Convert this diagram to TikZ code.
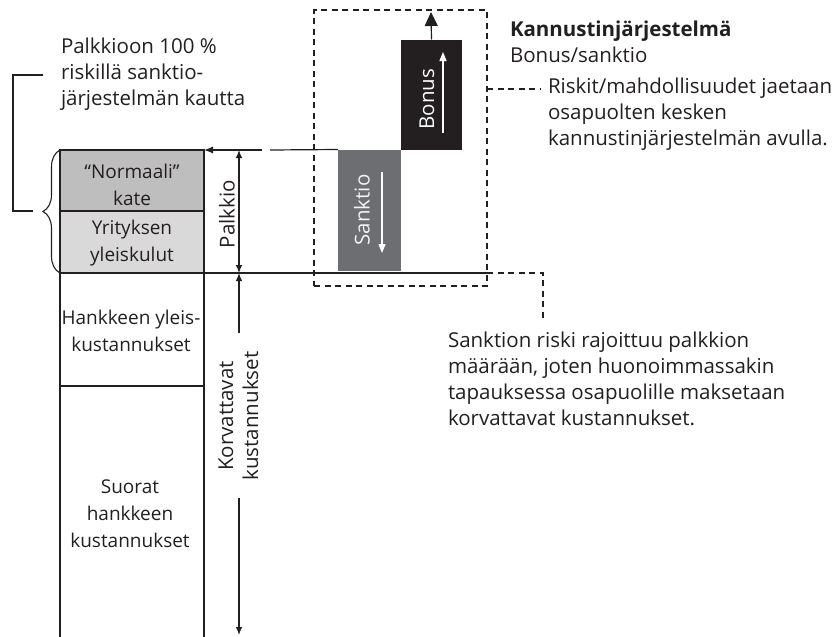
\documentclass[tikz,border=0pt]{standalone}
\usepackage{fontspec}
\setmainfont{Open Sans}
\usetikzlibrary{arrows.meta,decorations.pathreplacing}
\definecolor{ink}{HTML}{231F20}
\definecolor{margingray}{HTML}{BEBEBE}
\definecolor{overheadgray}{HTML}{D9D9DA}
\definecolor{sanktiogray}{HTML}{6D6E71}
\definecolor{bonusblack}{HTML}{231F20}
\begin{document}
\begin{tikzpicture}[x=1pt,y=-1pt,
  every node/.style={text=ink, font=\fontsize{20.5}{26}\selectfont, inner sep=0pt, outer sep=0pt},
  rule/.style={draw=ink, line width=1.2pt},
  cell/.style={rule, anchor=north west, minimum width=144pt},
  celltext/.style={align=center, font=\fontsize{19}{27}\selectfont},
  dashes/.style={draw=ink, line width=1.1pt, dash pattern=on 6pt off 4.5pt},
  dimarrow/.style={draw=ink, line width=1.1pt, -{Latex[length=8pt,width=6.5pt]}},
  whitearrow/.style={draw=white, line width=1.3pt, -{Triangle[length=9pt,width=7pt]}},
  note/.style={anchor=north west, align=left},
]
\useasboundingbox (0,0) rectangle (838,637);

% cost column
\node[cell, fill=margingray, minimum height=61pt] (kate) at (60,150) {};
\node[cell, fill=overheadgray, minimum height=62pt] (yleis) at (60,211) {};
\node[cell, minimum height=113pt] (hanke) at (60,273) {};
\coordinate (colBL) at (60,640);
\coordinate (colBR) at (204,640);
\draw[rule] (hanke.south west) -- (colBL);
\draw[rule] (hanke.south east) -- (colBR);
\node[celltext] (kateTxt) at (132,185) {“Normaali”\\kate};
\node[celltext] (yleisTxt) at (132,243) {Yrityksen\\yleiskulut};
\node[celltext] (hankeTxt) at (131,331) {Hankkeen yleis-\\kustannukset};
\node[celltext] (suoratTxt) at (130,514) {Suorat\\hankkeen\\kustannukset};

% bonus / sanction bars
\node[fill=sanktiogray, anchor=north west, minimum width=63pt, minimum height=121pt] (sanktio) at (338,149.5) {};
\node[fill=bonusblack, anchor=south west, minimum width=61pt, minimum height=110pt] (bonus) at (401,149.5) {};
\node[rotate=90, text=white] (bonusLbl) at (427,99) {Bonus};
\node[rotate=90, text=white!90!gray] (sanktioLbl) at (362,210) {Sanktio};
\coordinate (bonusArrA) at (443,133);
\coordinate (bonusArrB) at (443,52);
\coordinate (sankArrA) at (382,172);
\coordinate (sankArrB) at (382,253);
\draw[whitearrow] (bonusArrA) -- (bonusArrB);
\draw[whitearrow] (sankArrA) -- (sankArrB);
\coordinate (bonusTip) at (431,12);
\draw[draw=ink, line width=1.2pt, -{Triangle[length=14pt,width=13pt]}] (bonus.north) -- (bonusTip);

% reference lines
\coordinate (gapR) at (270,150);
\coordinate (gapL) at (262,150);
\coordinate (baseEnd) at (487,273);
\draw[rule] (sanktio.north west) -- (gapR);
\draw[rule, -{Latex[length=9pt,width=7pt]}] (gapL) -- (kate.north east);
\draw[rule] (yleis.south east) -- (baseEnd);

% dimension arrows
\coordinate (palkTop) at (239,150);
\coordinate (palkBot) at (239,273);
\draw[dimarrow, {Latex[length=8pt,width=6.5pt]}-{Latex[length=8pt,width=6.5pt]}] (palkTop) -- (palkBot);
\node[rotate=90] (palkLbl) at (227,214) {Palkkio};
\coordinate (korvTop) at (239,273);
\coordinate (korvGapA) at (239,333);
\coordinate (korvGapB) at (239,498);
\coordinate (korvBot) at (239,635);
\draw[dimarrow] (korvGapA) -- (korvTop);
\draw[dimarrow] (korvGapB) -- (korvBot);
\node[rotate=90, align=center, font=\fontsize{20.5}{25}\selectfont] (korvLbl) at (238.5,416) {Korvattavat\\kustannukset};

% incentive system frame
\node[dashes, anchor=north west, minimum width=173pt, minimum height=276pt] (kbox) at (314,10) {};

% left note with bracket and brace
\node[note] (palkNote) at (61,38) {Palkkioon 100 \%\\riskillä sanktio-\\järjestelmän kautta};
\draw[line width=1.1pt, draw=ink, decorate, decoration={brace, amplitude=17pt, mirror}] (kate.north west) -- (yleis.south west);
\coordinate (brA) at (43,75);
\coordinate (brB) at (13,75);
\coordinate (brC) at (13,211);
\coordinate (brD) at (33,211);
\draw[rule, line width=1.1pt] (brA) -- (brB) -- (brC) -- (brD);

% right-hand texts
\node[note] (title) at (510,21) {\textbf{Kannustinjärjestelmä}\\Bonus/sanktio};
\node[note] (riskit) at (548,78) {Riskit/mahdollisuudet jaetaan\\osapuolten kesken\\kannustinjärjestelmän avulla.};
\coordinate (riskitEnd) at (540,89);
\draw[dashes] (kbox.east |- riskitEnd) -- (riskitEnd);

\node[note] (sanktionNote) at (448,332) {Sanktion riski rajoittuu palkkion\\määrään, joten huonoimmassakin\\tapauksessa osapuolille maksetaan\\korvattavat kustannukset.};
\coordinate (noteCorner) at (543,273);
\coordinate (noteEnd) at (543,322);
\draw[dashes] (baseEnd) -- (noteCorner) -- (noteEnd);
\end{tikzpicture}
\end{document}
